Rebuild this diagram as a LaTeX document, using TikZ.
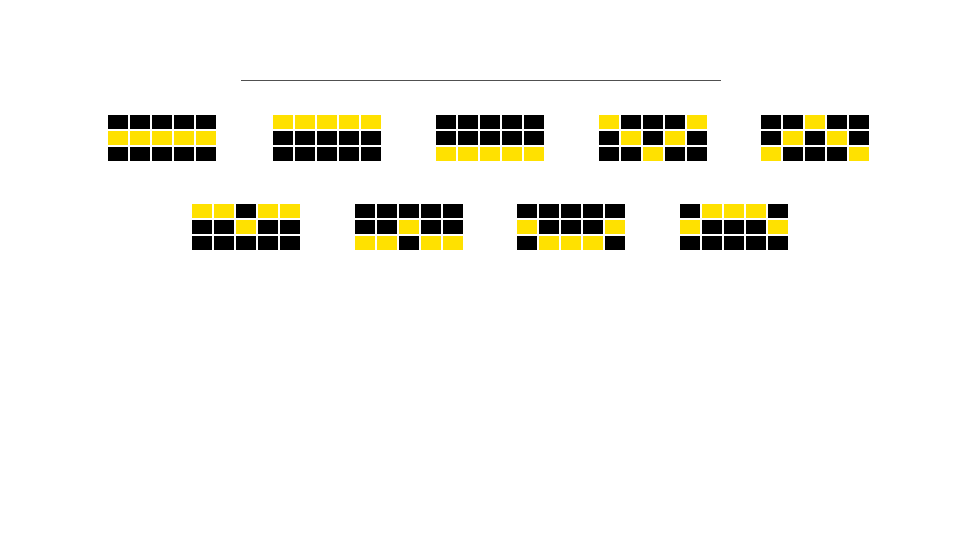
\documentclass[tikz,border=0pt]{standalone}
\usepackage{xcolor}
\usepackage{tikz}

\definecolor{Y}{HTML}{FFE100}
\colorlet{B}{black}
\definecolor{rulegray}{HTML}{505050}

% one 5x3 block of cells, top left corner at (#1,#2)
\newcommand{\cellgrid}[3]{%
	\foreach \c [count=\i from 0] in {#3} {
		\pgfmathtruncatemacro{\col}{mod(\i,5)}
		\pgfmathtruncatemacro{\row}{div(\i,5)}
		\fill[\c] ({#1+22*\col},{#2+16*\row}) rectangle ++(20,14);
	}%
}

\begin{document}
\begin{tikzpicture}[x=1pt,y=-1pt]
	\useasboundingbox (0,0) rectangle (960,540);
	
	\draw[rulegray,line width=1.1pt] (241,80.5) -- (721,80.5);
	
	% top row
	\cellgrid{108}{115}{B,B,B,B,B, Y,Y,Y,Y,Y, B,B,B,B,B}
	\cellgrid{273}{115}{Y,Y,Y,Y,Y, B,B,B,B,B, B,B,B,B,B}
	\cellgrid{436}{115}{B,B,B,B,B, B,B,B,B,B, Y,Y,Y,Y,Y}
	\cellgrid{599}{115}{Y,B,B,B,Y, B,Y,B,Y,B, B,B,Y,B,B}
	\cellgrid{761}{115}{B,B,Y,B,B, B,Y,B,Y,B, Y,B,B,B,Y}
	
	% bottom row
	\cellgrid{192}{204}{Y,Y,B,Y,Y, B,B,Y,B,B, B,B,B,B,B}
	\cellgrid{355}{204}{B,B,B,B,B, B,B,Y,B,B, Y,Y,B,Y,Y}
	\cellgrid{517}{204}{B,B,B,B,B, Y,B,B,B,Y, B,Y,Y,Y,B}
	\cellgrid{680}{204}{B,Y,Y,Y,B, Y,B,B,B,Y, B,B,B,B,B}
\end{tikzpicture}
\end{document}
